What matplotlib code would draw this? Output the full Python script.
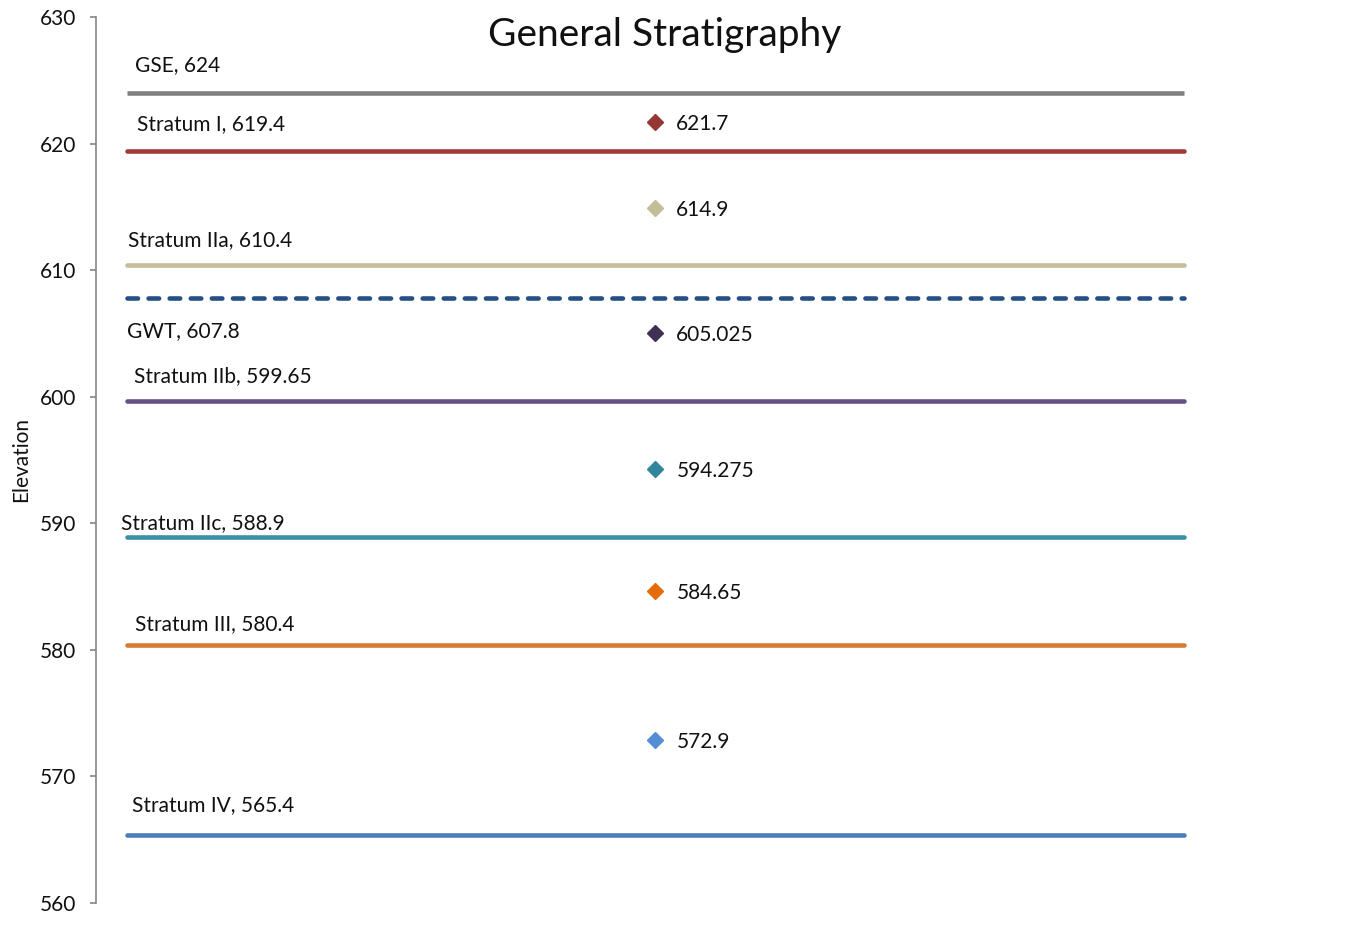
import numpy as np
import matplotlib.pyplot as plt

plt.rcParams['font.family'] = ['Lato', 'DejaVu Sans']

# layer tops (elevation)
layers = ["GSE", "Stratum I", "Stratum IIa", "Stratum IIb", "Stratum IIc", "Stratum III", "Stratum IV"]
tops = [624, 619.4, 610.4, 599.65, 588.9, 580.4, 565.4]
gwt = 607.8

# mid-layer points
mids = [621.7, 614.9, 605.025, 594.275, 584.65, 572.9]

line_cols = ["#808080", "#9E3A38", "#C4BD97", "#654F85", "#3A8FA6", "#D57B32", "#4A7EBB"]
mid_cols = ["#953735", "#C4BD97", "#403152", "#31859C", "#E46C0A", "#558ED5"]
gwt_col = "#254F86"

# where each label sits: x in data units, y offset above the line (elevation units)
lab_x = [0.015, 0.019, 0.002, 0.013, -0.011, 0.015, 0.010]
lab_dy = [2.2, 2.1, 2.0, 2.0, 1.1, 1.6, 2.3]

fig = plt.figure(figsize=(13.54, 9.25), dpi=100)
ax = fig.add_axes([96/1354, 22/925, 1119/1354, 886/925])

xs = [0, 2]
for i in range(len(tops)):
    cap = "butt" if i == 0 else "round"
    ax.plot(xs, [tops[i], tops[i]], color=line_cols[i], lw=3.3, solid_capstyle=cap, zorder=2)
    ax.text(lab_x[i], tops[i] + lab_dy[i], "%s, %s" % (layers[i], tops[i]),
            fontsize=15, va="center", ha="left", color="#111111")

ax.plot(xs, [gwt, gwt], color=gwt_col, lw=3.3, ls=(0, (2.3, 2.3)), dash_capstyle="round", zorder=2)
ax.text(0.0, gwt - 2.6, "GWT, %s" % gwt, fontsize=15, va="center", ha="left", color="#111111")

for i in range(len(mids)):
    ax.plot([1], [mids[i]], marker="D", ms=8.5, color=mid_cols[i], ls="none", zorder=3)
    ax.annotate("%s" % mids[i], (1, mids[i]), xytext=(15, -1.5), textcoords="offset points",
                fontsize=15, va="center", ha="left", color="#111111")

ax.set_xlim(-0.0586, 2.0586)
ax.set_ylim(560, 630)
ax.set_yticks(np.arange(560, 631, 10))
ax.set_xticks([])
for s in ["top", "right", "bottom"]:
    ax.spines[s].set_visible(False)
ax.spines["left"].set_color("#868686")
ax.spines["left"].set_linewidth(1.2)
ax.tick_params(axis="y", direction="out", length=4.5, width=1.2, color="#868686",
               pad=10, labelsize=15, labelcolor="#111111")
ax.set_ylabel("Elevation", fontsize=15, color="#111111", labelpad=6)

fig.text(665/1354, 1 - 35/925, "General Stratigraphy", fontsize=28, ha="center", va="center",
         color="#111111")

fig.savefig("out.png", dpi=100)
